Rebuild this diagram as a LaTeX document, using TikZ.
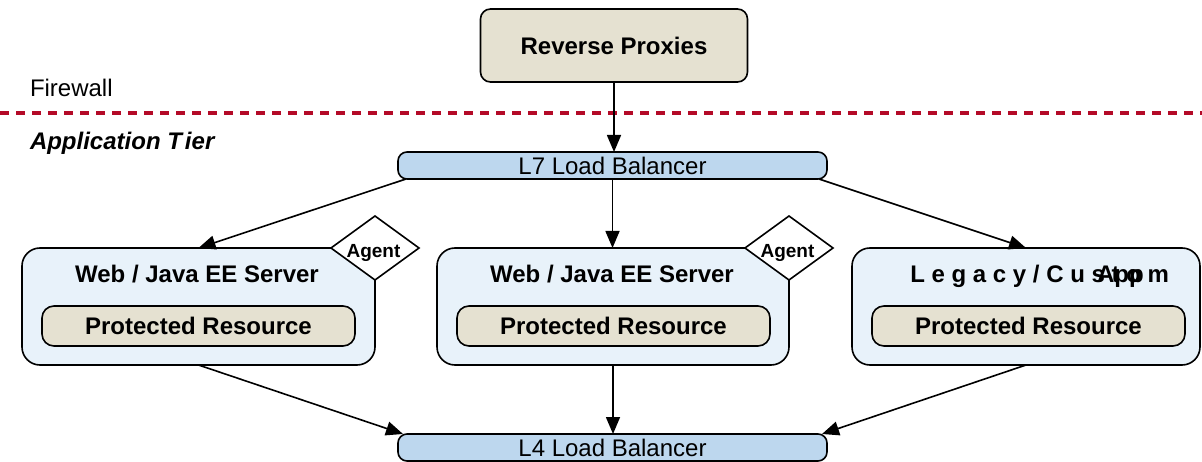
\documentclass[tikz,border=0pt]{standalone}
\usepackage{fontspec}
\setmainfont{Liberation Sans}
\usetikzlibrary{arrows.meta,shapes.geometric,calc}
\definecolor{beige}{RGB}{229,225,209}
\definecolor{lbblue}{RGB}{189,215,238}
\definecolor{srvfill}{RGB}{232,242,250}
\definecolor{fwred}{RGB}{180,10,40}
\begin{document}
\begin{tikzpicture}[x=1pt,y=-1pt,
  every node/.style={inner sep=0pt, outer sep=0pt},
  big/.style={font=\fontsize{24}{28}\selectfont},
  bigb/.style={font=\fontsize{24}{28}\selectfont\bfseries},
  proxybox/.style={draw, line width=1.6pt, rounded corners=10pt, fill=beige, minimum width=267pt, minimum height=73pt, bigb},
  lbbox/.style={draw, line width=1.6pt, rounded corners=9pt, fill=lbblue, minimum width=429pt, minimum height=27pt, big},
  srvbox/.style={draw, line width=1.6pt, rounded corners=18pt, fill=srvfill, minimum height=117pt},
  resbox/.style={draw, line width=1.6pt, rounded corners=12pt, fill=beige, minimum width=313pt, minimum height=40pt, bigb},
  agentbox/.style={draw, line width=1.6pt, diamond, fill=white, minimum width=88pt, minimum height=64pt},
  agenttext/.style={font=\fontsize{19}{21}\selectfont\bfseries, anchor=base},
  arr/.style={line width=1.6pt, -{Triangle[length=17pt,width=14pt]}}
]
\useasboundingbox (0,0) rectangle (1202,462);

% firewall
\node[big, anchor=base west] (fwtext) at (30,97) {Firewall};
\coordinate (fwL) at (0,113);
\coordinate (fwR) at (1202,113);
\draw[fwred, line width=3.5pt, dash pattern=on 9pt off 7pt] (fwL) -- (fwR);
\node[font=\fontsize{24}{28}\selectfont\bfseries\itshape, anchor=base west] (tier) at (30,150) {Application T\kern3pt ier};

% nodes
\node[proxybox] (rp) at (614,45.5) {Reverse Proxies};
\node[lbbox] (l7) at (612.5,165.5) {L7 Load Balancer};
\node[lbbox] (l4) at (612.5,447.5) {L4 Load Balancer};

\node[srvbox, minimum width=353pt] (s1) at (198.5,306.5) {};
\node[srvbox, minimum width=352pt] (s2) at (613,306.5) {};
\node[srvbox, minimum width=348pt] (s3) at (1026,306.5) {};

\node[bigb, anchor=base] (t1) at (197,283) {Web / Java EE Server};
\node[bigb, anchor=base] (t2) at (612,283) {Web / Java EE Server};
\node[bigb, anchor=base east] (t3) at (1169,283) {L e g a c y / C u s t o m};
\node[bigb, anchor=base west] (t3b) at (1097,283) {App};

\node[resbox] (r1) at (198.5,326) {Protected Resource};
\node[resbox] (r2) at (613.5,326) {Protected Resource};
\node[resbox] (r3) at (1028.5,326) {Protected Resource};

\node[agentbox] (a1) at (375,248) {};
\node[agentbox] (a2) at (789,248) {};
\node[agenttext] (a1t) at (373.5,257.5) {Agent};
\node[agenttext] (a2t) at (787.5,257.5) {Agent};

% connectors
\draw[arr] (rp.south) -- (rp.south |- l7.north);
\draw[arr] ([xshift=8pt]l7.south west) -- (s1.north);
\draw[arr] (l7.south) -- (l7.south |- s2.north);
\draw[arr] ([xshift=-8pt]l7.south east) -- (s3.north);
\draw[arr] (s1.south) -- ([xshift=5pt]l4.north west);
\draw[arr] (s2.south) -- (s2.south |- l4.north);
\draw[arr] (s3.south) -- ([xshift=-5pt]l4.north east);
\end{tikzpicture}
\end{document}
